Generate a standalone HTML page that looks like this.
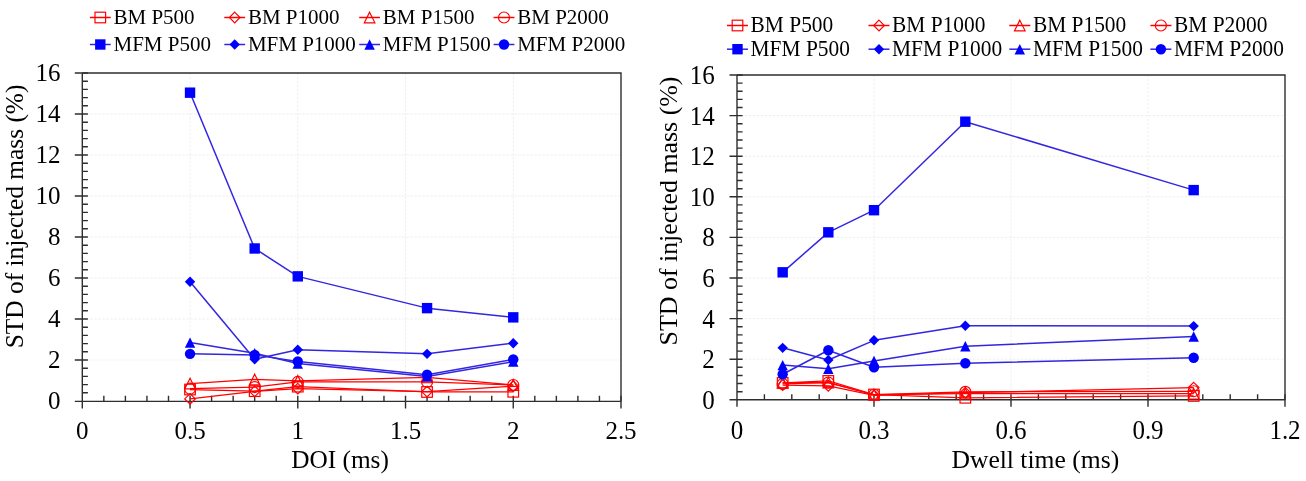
<!DOCTYPE html>
<html><head><meta charset="utf-8"><title>STD of injected mass</title>
<style>
html,body{margin:0;padding:0;background:#fff;}
body{width:1306px;height:481px;overflow:hidden;font-family:"Liberation Serif",serif;}
svg{display:block;}
#w{will-change:transform;width:1306px;height:481px;}
</style></head><body><div id="w">
<svg width="1306" height="481" viewBox="0 0 1306 481">
<rect width="1306" height="481" fill="#fff"/>
<path d="M82.3 360H621M82.3 319H621M82.3 278H621M82.3 237H621M82.3 196H621M82.3 155H621M82.3 114H621M190.04 73V401M297.78 73V401M405.52 73V401M513.26 73V401" stroke="#efefef" stroke-width="1" stroke-dasharray="2.5 1.5" fill="none"/>
<path d="M82.3 73H621V401.4" stroke="#2e2e2e" stroke-width="1.4" fill="none"/>
<path d="M82.3 73V401.4M82.3 401.4H621M74.8 401.4H87.9M74.8 360H87.9M74.8 319H87.9M74.8 278H87.9M74.8 237H87.9M74.8 196H87.9M74.8 155H87.9M74.8 114H87.9M74.8 73H87.9M82.3 392.8H87.9M82.3 384.6H87.9M82.3 376.4H87.9M82.3 368.2H87.9M82.3 351.8H87.9M82.3 343.6H87.9M82.3 335.4H87.9M82.3 327.2H87.9M82.3 310.8H87.9M82.3 302.6H87.9M82.3 294.4H87.9M82.3 286.2H87.9M82.3 269.8H87.9M82.3 261.6H87.9M82.3 253.4H87.9M82.3 245.2H87.9M82.3 228.8H87.9M82.3 220.6H87.9M82.3 212.4H87.9M82.3 204.2H87.9M82.3 187.8H87.9M82.3 179.6H87.9M82.3 171.4H87.9M82.3 163.2H87.9M82.3 146.8H87.9M82.3 138.6H87.9M82.3 130.4H87.9M82.3 122.2H87.9M82.3 105.8H87.9M82.3 97.6H87.9M82.3 89.4H87.9M82.3 81.2H87.9M82.3 395.8V408.4M190.04 395.8V408.4M297.78 395.8V408.4M405.52 395.8V408.4M513.26 395.8V408.4M621 395.8V408.4M103.85 395.8V401.4M125.4 395.8V401.4M146.94 395.8V401.4M168.49 395.8V401.4M211.59 395.8V401.4M233.14 395.8V401.4M254.68 395.8V401.4M276.23 395.8V401.4M319.33 395.8V401.4M340.88 395.8V401.4M362.42 395.8V401.4M383.97 395.8V401.4M427.07 395.8V401.4M448.62 395.8V401.4M470.16 395.8V401.4M491.71 395.8V401.4M534.81 395.8V401.4M556.36 395.8V401.4M577.9 395.8V401.4M599.45 395.8V401.4" stroke="#2e2e2e" stroke-width="1.4" fill="none"/>
<g font-family='"Liberation Serif", serif' font-size="25" fill="#000">
<text transform="translate(60.5 409.4) scale(1 1.04)" text-anchor="end">0</text>
<text transform="translate(60.5 368.4) scale(1 1.04)" text-anchor="end">2</text>
<text transform="translate(60.5 327.4) scale(1 1.04)" text-anchor="end">4</text>
<text transform="translate(60.5 286.4) scale(1 1.04)" text-anchor="end">6</text>
<text transform="translate(60.5 245.4) scale(1 1.04)" text-anchor="end">8</text>
<text transform="translate(60.5 204.4) scale(1 1.04)" text-anchor="end">10</text>
<text transform="translate(60.5 163.4) scale(1 1.04)" text-anchor="end">12</text>
<text transform="translate(60.5 122.4) scale(1 1.04)" text-anchor="end">14</text>
<text transform="translate(60.5 81.4) scale(1 1.04)" text-anchor="end">16</text>
<text transform="translate(82.3 439.3) scale(1 1.04)" text-anchor="middle">0</text>
<text transform="translate(190.04 439.3) scale(1 1.04)" text-anchor="middle">0.5</text>
<text transform="translate(297.78 439.3) scale(1 1.04)" text-anchor="middle">1</text>
<text transform="translate(405.52 439.3) scale(1 1.04)" text-anchor="middle">1.5</text>
<text transform="translate(513.26 439.3) scale(1 1.04)" text-anchor="middle">2</text>
<text transform="translate(621 439.3) scale(1 1.04)" text-anchor="middle">2.5</text>
<text x="340" y="468" text-anchor="middle" font-size="25.3">DOI (ms)</text>
<text transform="translate(22.7 216.4) rotate(-90)" text-anchor="middle" font-size="25.4">STD of injected mass (%)</text>
</g>
<polyline points="190.04,389.52 254.68,391.16 297.78,386.65 427.07,391.98 513.26,391.77" fill="none" stroke="#ff0000" stroke-width="1.25" stroke-linejoin="round"/>
<rect x="184.74" y="384.22" width="10.6" height="10.6" fill="none" stroke="#ff0000" stroke-width="1.2"/>
<rect x="249.38" y="385.86" width="10.6" height="10.6" fill="none" stroke="#ff0000" stroke-width="1.2"/>
<rect x="292.48" y="381.35" width="10.6" height="10.6" fill="none" stroke="#ff0000" stroke-width="1.2"/>
<rect x="421.77" y="386.68" width="10.6" height="10.6" fill="none" stroke="#ff0000" stroke-width="1.2"/>
<rect x="507.96" y="386.47" width="10.6" height="10.6" fill="none" stroke="#ff0000" stroke-width="1.2"/>
<polyline points="190.04,398.95 254.68,391.37 297.78,388.7 427.07,391.57 513.26,386.24" fill="none" stroke="#ff0000" stroke-width="1.25" stroke-linejoin="round"/>
<path d="M190.04 393.65L195.34 398.95L190.04 404.25L184.74 398.95Z" fill="none" stroke="#ff0000" stroke-width="1.2"/>
<path d="M254.68 386.06L259.98 391.37L254.68 396.67L249.38 391.37Z" fill="none" stroke="#ff0000" stroke-width="1.2"/>
<path d="M297.78 383.4L303.08 388.7L297.78 394L292.48 388.7Z" fill="none" stroke="#ff0000" stroke-width="1.2"/>
<path d="M427.07 386.27L432.37 391.57L427.07 396.87L421.77 391.57Z" fill="none" stroke="#ff0000" stroke-width="1.2"/>
<path d="M513.26 380.94L518.56 386.24L513.26 391.54L507.96 386.24Z" fill="none" stroke="#ff0000" stroke-width="1.2"/>
<polyline points="190.04,383.57 254.68,379.48 297.78,380.91 427.07,377.43 513.26,385.01" fill="none" stroke="#ff0000" stroke-width="1.25" stroke-linejoin="round"/>
<path d="M190.04 378.27L195.34 388.88L184.74 388.88Z" fill="none" stroke="#ff0000" stroke-width="1.2"/>
<path d="M254.68 374.18L259.98 384.78L249.38 384.78Z" fill="none" stroke="#ff0000" stroke-width="1.2"/>
<path d="M297.78 375.61L303.08 386.21L292.48 386.21Z" fill="none" stroke="#ff0000" stroke-width="1.2"/>
<path d="M427.07 372.12L432.37 382.73L421.77 382.73Z" fill="none" stroke="#ff0000" stroke-width="1.2"/>
<path d="M513.26 379.71L518.56 390.31L507.96 390.31Z" fill="none" stroke="#ff0000" stroke-width="1.2"/>
<polyline points="190.04,388.7 254.68,387.06 297.78,381.94 427.07,381.94 513.26,385.01" fill="none" stroke="#ff0000" stroke-width="1.25" stroke-linejoin="round"/>
<circle cx="190.04" cy="388.7" r="5.5" fill="none" stroke="#ff0000" stroke-width="1.2"/>
<circle cx="254.68" cy="387.06" r="5.5" fill="none" stroke="#ff0000" stroke-width="1.2"/>
<circle cx="297.78" cy="381.94" r="5.5" fill="none" stroke="#ff0000" stroke-width="1.2"/>
<circle cx="427.07" cy="381.94" r="5.5" fill="none" stroke="#ff0000" stroke-width="1.2"/>
<circle cx="513.26" cy="385.01" r="5.5" fill="none" stroke="#ff0000" stroke-width="1.2"/>
<polyline points="190.04,92.68 254.68,248.48 297.78,276.36 427.07,308.13 513.26,317.36" fill="none" stroke="#3326e0" stroke-width="1.5" stroke-linejoin="round"/>
<rect x="184.84" y="87.48" width="10.4" height="10.4" fill="#0000ff" stroke="none"/>
<rect x="249.48" y="243.28" width="10.4" height="10.4" fill="#0000ff" stroke="none"/>
<rect x="292.58" y="271.16" width="10.4" height="10.4" fill="#0000ff" stroke="none"/>
<rect x="421.87" y="302.94" width="10.4" height="10.4" fill="#0000ff" stroke="none"/>
<rect x="508.06" y="312.16" width="10.4" height="10.4" fill="#0000ff" stroke="none"/>
<polyline points="190.04,281.69 254.68,359.18 297.78,349.75 427.07,353.85 513.26,343.19" fill="none" stroke="#3326e0" stroke-width="1.5" stroke-linejoin="round"/>
<path d="M190.04 276.49L195.24 281.69L190.04 286.89L184.84 281.69Z" fill="#0000ff" stroke="none"/>
<path d="M254.68 353.98L259.88 359.18L254.68 364.38L249.48 359.18Z" fill="#0000ff" stroke="none"/>
<path d="M297.78 344.55L302.98 349.75L297.78 354.95L292.58 349.75Z" fill="#0000ff" stroke="none"/>
<path d="M427.07 348.65L432.27 353.85L427.07 359.05L421.87 353.85Z" fill="#0000ff" stroke="none"/>
<path d="M513.26 337.99L518.46 343.19L513.26 348.39L508.06 343.19Z" fill="#0000ff" stroke="none"/>
<polyline points="190.04,342.57 254.68,353.24 297.78,363.49 427.07,376.4 513.26,361.64" fill="none" stroke="#3326e0" stroke-width="1.5" stroke-linejoin="round"/>
<path d="M190.04 337.38L195.24 347.77L184.84 347.77Z" fill="#0000ff" stroke="none"/>
<path d="M254.68 348.04L259.88 358.44L249.48 358.44Z" fill="#0000ff" stroke="none"/>
<path d="M297.78 358.29L302.98 368.69L292.58 368.69Z" fill="#0000ff" stroke="none"/>
<path d="M427.07 371.2L432.27 381.6L421.87 381.6Z" fill="#0000ff" stroke="none"/>
<path d="M513.26 356.44L518.46 366.84L508.06 366.84Z" fill="#0000ff" stroke="none"/>
<polyline points="190.04,353.85 254.68,354.88 297.78,361.44 427.07,374.76 513.26,359.38" fill="none" stroke="#3326e0" stroke-width="1.5" stroke-linejoin="round"/>
<circle cx="190.04" cy="353.85" r="5.2" fill="#0000ff" stroke="none"/>
<circle cx="254.68" cy="354.88" r="5.2" fill="#0000ff" stroke="none"/>
<circle cx="297.78" cy="361.44" r="5.2" fill="#0000ff" stroke="none"/>
<circle cx="427.07" cy="374.76" r="5.2" fill="#0000ff" stroke="none"/>
<circle cx="513.26" cy="359.38" r="5.2" fill="#0000ff" stroke="none"/>
<g font-family='"Liberation Serif", serif' font-size="21" fill="#000">
<path d="M89.9 17.5H110.7" stroke="#ff0000" stroke-width="1.5"/>
<rect x="95" y="12.2" width="10.6" height="10.6" fill="none" stroke="#ff0000" stroke-width="1.2"/>
<text transform="translate(113.5 24) scale(1 1.0)">BM P500</text>
<path d="M224.3 17.5H245.1" stroke="#ff0000" stroke-width="1.5"/>
<path d="M234.7 12.2L240 17.5L234.7 22.8L229.4 17.5Z" fill="none" stroke="#ff0000" stroke-width="1.2"/>
<text transform="translate(247.9 24) scale(1 1.0)">BM P1000</text>
<path d="M359.2 17.5H380" stroke="#ff0000" stroke-width="1.5"/>
<path d="M369.6 12.2L374.9 22.8L364.3 22.8Z" fill="none" stroke="#ff0000" stroke-width="1.2"/>
<text transform="translate(382.8 24) scale(1 1.0)">BM P1500</text>
<path d="M493.6 17.5H514.4" stroke="#ff0000" stroke-width="1.5"/>
<circle cx="504" cy="17.5" r="5.5" fill="none" stroke="#ff0000" stroke-width="1.2"/>
<text transform="translate(517.2 24) scale(1 1.0)">BM P2000</text>
<path d="M89.9 44.5H110.7" stroke="#3326e0" stroke-width="1.5"/>
<rect x="95.1" y="39.3" width="10.4" height="10.4" fill="#0000ff" stroke="none"/>
<text transform="translate(113.5 51) scale(1 1.0)">MFM P500</text>
<path d="M224.3 44.5H245.1" stroke="#3326e0" stroke-width="1.5"/>
<path d="M234.7 39.3L239.9 44.5L234.7 49.7L229.5 44.5Z" fill="#0000ff" stroke="none"/>
<text transform="translate(247.9 51) scale(1 1.0)">MFM P1000</text>
<path d="M359.2 44.5H380" stroke="#3326e0" stroke-width="1.5"/>
<path d="M369.6 39.3L374.8 49.7L364.4 49.7Z" fill="#0000ff" stroke="none"/>
<text transform="translate(382.8 51) scale(1 1.0)">MFM P1500</text>
<path d="M493.6 44.5H514.4" stroke="#3326e0" stroke-width="1.5"/>
<circle cx="504" cy="44.5" r="5.2" fill="#0000ff" stroke="none"/>
<text transform="translate(517.2 51) scale(1 1.0)">MFM P2000</text>
</g>
<path d="M737 359.2H1285M737 318.6H1285M737 278H1285M737 237.4H1285M737 196.8H1285M737 156.2H1285M737 115.6H1285M874 75V399.8M1011 75V399.8M1148 75V399.8" stroke="#efefef" stroke-width="1" stroke-dasharray="2.5 1.5" fill="none"/>
<path d="M737 75H1285V399.8" stroke="#2e2e2e" stroke-width="1.4" fill="none"/>
<path d="M737 75V399.8M737 399.8H1285M729.5 399.8H742.6M729.5 359.2H742.6M729.5 318.6H742.6M729.5 278H742.6M729.5 237.4H742.6M729.5 196.8H742.6M729.5 156.2H742.6M729.5 115.6H742.6M729.5 75H742.6M737 391.68H742.6M737 383.56H742.6M737 375.44H742.6M737 367.32H742.6M737 351.08H742.6M737 342.96H742.6M737 334.84H742.6M737 326.72H742.6M737 310.48H742.6M737 302.36H742.6M737 294.24H742.6M737 286.12H742.6M737 269.88H742.6M737 261.76H742.6M737 253.64H742.6M737 245.52H742.6M737 229.28H742.6M737 221.16H742.6M737 213.04H742.6M737 204.92H742.6M737 188.68H742.6M737 180.56H742.6M737 172.44H742.6M737 164.32H742.6M737 148.08H742.6M737 139.96H742.6M737 131.84H742.6M737 123.72H742.6M737 107.48H742.6M737 99.36H742.6M737 91.24H742.6M737 83.12H742.6M737 394.2V406.8M874 394.2V406.8M1011 394.2V406.8M1148 394.2V406.8M1285 394.2V406.8M764.4 394.2V399.8M791.8 394.2V399.8M819.2 394.2V399.8M846.6 394.2V399.8M901.4 394.2V399.8M928.8 394.2V399.8M956.2 394.2V399.8M983.6 394.2V399.8M1038.4 394.2V399.8M1065.8 394.2V399.8M1093.2 394.2V399.8M1120.6 394.2V399.8M1175.4 394.2V399.8M1202.8 394.2V399.8M1230.2 394.2V399.8M1257.6 394.2V399.8" stroke="#2e2e2e" stroke-width="1.4" fill="none"/>
<g font-family='"Liberation Serif", serif' font-size="25" fill="#000">
<text transform="translate(714.8 408.7) scale(1 1.05)" text-anchor="end">0</text>
<text transform="translate(714.8 368.1) scale(1 1.05)" text-anchor="end">2</text>
<text transform="translate(714.8 327.5) scale(1 1.05)" text-anchor="end">4</text>
<text transform="translate(714.8 286.9) scale(1 1.05)" text-anchor="end">6</text>
<text transform="translate(714.8 246.3) scale(1 1.05)" text-anchor="end">8</text>
<text transform="translate(714.8 205.7) scale(1 1.05)" text-anchor="end">10</text>
<text transform="translate(714.8 165.1) scale(1 1.05)" text-anchor="end">12</text>
<text transform="translate(714.8 124.5) scale(1 1.05)" text-anchor="end">14</text>
<text transform="translate(714.8 83.9) scale(1 1.05)" text-anchor="end">16</text>
<text transform="translate(737 438.7) scale(1 1.05)" text-anchor="middle">0</text>
<text transform="translate(874 438.7) scale(1 1.05)" text-anchor="middle">0.3</text>
<text transform="translate(1011 438.7) scale(1 1.05)" text-anchor="middle">0.6</text>
<text transform="translate(1148 438.7) scale(1 1.05)" text-anchor="middle">0.9</text>
<text transform="translate(1285 438.7) scale(1 1.05)" text-anchor="middle">1.2</text>
<text x="1035.3" y="467.8" text-anchor="middle" font-size="25.6">Dwell time (ms)</text>
<text transform="translate(676.8 211) rotate(-90)" text-anchor="middle" font-size="25.9">STD of injected mass (%)</text>
</g>
<polyline points="782.67,382.95 828.33,380.92 874,394.52 965.33,397.77 1193.67,395.94" fill="none" stroke="#ff0000" stroke-width="1.25" stroke-linejoin="round"/>
<rect x="777.37" y="377.65" width="10.6" height="10.6" fill="none" stroke="#ff0000" stroke-width="1.2"/>
<rect x="823.03" y="375.62" width="10.6" height="10.6" fill="none" stroke="#ff0000" stroke-width="1.2"/>
<rect x="868.7" y="389.22" width="10.6" height="10.6" fill="none" stroke="#ff0000" stroke-width="1.2"/>
<rect x="960.03" y="392.47" width="10.6" height="10.6" fill="none" stroke="#ff0000" stroke-width="1.2"/>
<rect x="1188.37" y="390.64" width="10.6" height="10.6" fill="none" stroke="#ff0000" stroke-width="1.2"/>
<polyline points="782.67,385.18 828.33,385.79 874,395.33 965.33,392.69 1193.67,387.62" fill="none" stroke="#ff0000" stroke-width="1.25" stroke-linejoin="round"/>
<path d="M782.67 379.88L787.97 385.18L782.67 390.48L777.37 385.18Z" fill="none" stroke="#ff0000" stroke-width="1.2"/>
<path d="M828.33 380.49L833.63 385.79L828.33 391.09L823.03 385.79Z" fill="none" stroke="#ff0000" stroke-width="1.2"/>
<path d="M874 390.03L879.3 395.33L874 400.63L868.7 395.33Z" fill="none" stroke="#ff0000" stroke-width="1.2"/>
<path d="M965.33 387.39L970.63 392.69L965.33 398L960.03 392.69Z" fill="none" stroke="#ff0000" stroke-width="1.2"/>
<path d="M1193.67 382.32L1198.97 387.62L1193.67 392.92L1188.37 387.62Z" fill="none" stroke="#ff0000" stroke-width="1.2"/>
<polyline points="782.67,382.55 828.33,382.55 874,394.73 965.33,393.71 1193.67,393.71" fill="none" stroke="#ff0000" stroke-width="1.25" stroke-linejoin="round"/>
<path d="M782.67 377.25L787.97 387.85L777.37 387.85Z" fill="none" stroke="#ff0000" stroke-width="1.2"/>
<path d="M828.33 377.25L833.63 387.85L823.03 387.85Z" fill="none" stroke="#ff0000" stroke-width="1.2"/>
<path d="M874 389.43L879.3 400.03L868.7 400.03Z" fill="none" stroke="#ff0000" stroke-width="1.2"/>
<path d="M965.33 388.41L970.63 399.01L960.03 399.01Z" fill="none" stroke="#ff0000" stroke-width="1.2"/>
<path d="M1193.67 388.41L1198.97 399.01L1188.37 399.01Z" fill="none" stroke="#ff0000" stroke-width="1.2"/>
<polyline points="782.67,383.97 828.33,382.55 874,394.73 965.33,391.88 1193.67,391.27" fill="none" stroke="#ff0000" stroke-width="1.25" stroke-linejoin="round"/>
<circle cx="782.67" cy="383.97" r="5.5" fill="none" stroke="#ff0000" stroke-width="1.2"/>
<circle cx="828.33" cy="382.55" r="5.5" fill="none" stroke="#ff0000" stroke-width="1.2"/>
<circle cx="874" cy="394.73" r="5.5" fill="none" stroke="#ff0000" stroke-width="1.2"/>
<circle cx="965.33" cy="391.88" r="5.5" fill="none" stroke="#ff0000" stroke-width="1.2"/>
<circle cx="1193.67" cy="391.27" r="5.5" fill="none" stroke="#ff0000" stroke-width="1.2"/>
<polyline points="782.67,272.32 828.33,232.33 874,210.2 965.33,121.69 1193.67,190.1" fill="none" stroke="#3326e0" stroke-width="1.5" stroke-linejoin="round"/>
<rect x="777.47" y="267.12" width="10.4" height="10.4" fill="#0000ff" stroke="none"/>
<rect x="823.13" y="227.13" width="10.4" height="10.4" fill="#0000ff" stroke="none"/>
<rect x="868.8" y="205" width="10.4" height="10.4" fill="#0000ff" stroke="none"/>
<rect x="960.13" y="116.49" width="10.4" height="10.4" fill="#0000ff" stroke="none"/>
<rect x="1188.47" y="184.9" width="10.4" height="10.4" fill="#0000ff" stroke="none"/>
<polyline points="782.67,347.83 828.33,360.01 874,340.32 965.33,325.71 1193.67,326.11" fill="none" stroke="#3326e0" stroke-width="1.5" stroke-linejoin="round"/>
<path d="M782.67 342.63L787.87 347.83L782.67 353.03L777.47 347.83Z" fill="#0000ff" stroke="none"/>
<path d="M828.33 354.81L833.53 360.01L828.33 365.21L823.13 360.01Z" fill="#0000ff" stroke="none"/>
<path d="M874 335.12L879.2 340.32L874 345.52L868.8 340.32Z" fill="#0000ff" stroke="none"/>
<path d="M965.33 320.51L970.53 325.71L965.33 330.91L960.13 325.71Z" fill="#0000ff" stroke="none"/>
<path d="M1193.67 320.91L1198.87 326.11L1193.67 331.31L1188.47 326.11Z" fill="#0000ff" stroke="none"/>
<polyline points="782.67,365.09 828.33,368.74 874,361.03 965.33,346.21 1193.67,336.46" fill="none" stroke="#3326e0" stroke-width="1.5" stroke-linejoin="round"/>
<path d="M782.67 359.89L787.87 370.29L777.47 370.29Z" fill="#0000ff" stroke="none"/>
<path d="M828.33 363.54L833.53 373.94L823.13 373.94Z" fill="#0000ff" stroke="none"/>
<path d="M874 355.83L879.2 366.23L868.8 366.23Z" fill="#0000ff" stroke="none"/>
<path d="M965.33 341.01L970.53 351.41L960.13 351.41Z" fill="#0000ff" stroke="none"/>
<path d="M1193.67 331.26L1198.87 341.66L1188.47 341.66Z" fill="#0000ff" stroke="none"/>
<polyline points="782.67,374.22 828.33,350.27 874,367.32 965.33,363.26 1193.67,357.78" fill="none" stroke="#3326e0" stroke-width="1.5" stroke-linejoin="round"/>
<circle cx="782.67" cy="374.22" r="5.2" fill="#0000ff" stroke="none"/>
<circle cx="828.33" cy="350.27" r="5.2" fill="#0000ff" stroke="none"/>
<circle cx="874" cy="367.32" r="5.2" fill="#0000ff" stroke="none"/>
<circle cx="965.33" cy="363.26" r="5.2" fill="#0000ff" stroke="none"/>
<circle cx="1193.67" cy="357.78" r="5.2" fill="#0000ff" stroke="none"/>
<g font-family='"Liberation Serif", serif' font-size="21.4" fill="#000">
<path d="M727 25.5H748" stroke="#ff0000" stroke-width="1.5"/>
<rect x="732.2" y="20.2" width="10.6" height="10.6" fill="none" stroke="#ff0000" stroke-width="1.2"/>
<text transform="translate(750.6 32.3) scale(1 1.05)">BM P500</text>
<path d="M868.5 25.5H889.5" stroke="#ff0000" stroke-width="1.5"/>
<path d="M879 20.2L884.3 25.5L879 30.8L873.7 25.5Z" fill="none" stroke="#ff0000" stroke-width="1.2"/>
<text transform="translate(892.1 32.3) scale(1 1.05)">BM P1000</text>
<path d="M1009.3 25.5H1030.3" stroke="#ff0000" stroke-width="1.5"/>
<path d="M1019.8 20.2L1025.1 30.8L1014.5 30.8Z" fill="none" stroke="#ff0000" stroke-width="1.2"/>
<text transform="translate(1032.9 32.3) scale(1 1.05)">BM P1500</text>
<path d="M1150.4 25.5H1171.4" stroke="#ff0000" stroke-width="1.5"/>
<circle cx="1160.9" cy="25.5" r="5.5" fill="none" stroke="#ff0000" stroke-width="1.2"/>
<text transform="translate(1174 32.3) scale(1 1.05)">BM P2000</text>
<path d="M727 49.2H748" stroke="#3326e0" stroke-width="1.5"/>
<rect x="732.3" y="44" width="10.4" height="10.4" fill="#0000ff" stroke="none"/>
<text transform="translate(750.6 55.85) scale(1 1.05)">MFM P500</text>
<path d="M868.5 49.2H889.5" stroke="#3326e0" stroke-width="1.5"/>
<path d="M879 44L884.2 49.2L879 54.4L873.8 49.2Z" fill="#0000ff" stroke="none"/>
<text transform="translate(892.1 55.85) scale(1 1.05)">MFM P1000</text>
<path d="M1009.3 49.2H1030.3" stroke="#3326e0" stroke-width="1.5"/>
<path d="M1019.8 44L1025 54.4L1014.6 54.4Z" fill="#0000ff" stroke="none"/>
<text transform="translate(1032.9 55.85) scale(1 1.05)">MFM P1500</text>
<path d="M1150.4 49.2H1171.4" stroke="#3326e0" stroke-width="1.5"/>
<circle cx="1160.9" cy="49.2" r="5.2" fill="#0000ff" stroke="none"/>
<text transform="translate(1174 55.85) scale(1 1.05)">MFM P2000</text>
</g>
</svg></div>
</body></html>
